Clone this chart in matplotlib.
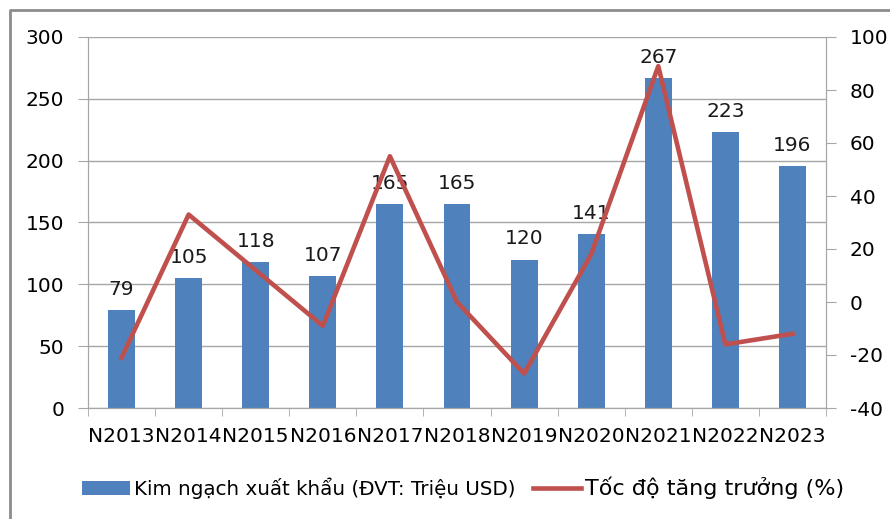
import matplotlib
matplotlib.use('Agg')
import matplotlib.pyplot as plt
from matplotlib.lines import Line2D
import numpy as np

# data
years = ['N2013', 'N2014', 'N2015', 'N2016', 'N2017', 'N2018',
         'N2019', 'N2020', 'N2021', 'N2022', 'N2023']
export_value = [79, 105, 118, 107, 165, 165, 120, 141, 267, 223, 196]
growth_pct = [-21, 33, 12, -9, 55, 0, -27, 18, 89, -16, -12]

bar_color = '#4F81BD'
line_color = '#C0504D'
grid_color = '#A6A6A6'

plt.rcParams['font.family'] = ['DejaVu Sans']
plt.rcParams['font.size'] = 14.5
plt.rcParams['axes.unicode_minus'] = False

fig = plt.figure(figsize=(8.9, 5.19), dpi=100)
ax = fig.add_axes([88 / 890, 1 - 408 / 519, (826 - 88) / 890, (408 - 37) / 519])
ax2 = ax.twinx()

x = np.arange(len(years))
bars = ax.bar(x, export_value, width=0.4, color=bar_color, zorder=2,
              label='Kim ngạch xuất khẩu (ĐVT: Triệu USD)')
for xi, v in zip(x, export_value):
    ax.annotate(str(v), (xi, v), xytext=(0, 8), textcoords='offset points',
                ha='center', va='bottom', fontsize=14.5, color='#1a1a1a')

ln, = ax2.plot(x, growth_pct, color=line_color, lw=3.3,
               label='Tốc độ tăng trưởng (%)', zorder=3)

ax.set_xlim(-0.5, len(years) - 0.5)
ax.set_ylim(0, 300)
ax.set_yticks(np.arange(0, 301, 50))
ax2.set_ylim(-40, 100)
ax2.set_yticks(np.arange(-40, 101, 20))

ax.set_xticks(x)
ax.set_xticklabels(years)
ax.set_xticks(np.arange(-0.5, len(years), 1), minor=True)
ax.tick_params(axis='x', which='major', length=0, pad=14)
ax.tick_params(axis='x', which='minor', length=6, color=grid_color)
ax.tick_params(axis='y', length=7, color=grid_color, pad=10)
ax2.tick_params(axis='y', length=7, color=grid_color, pad=10)

ax.yaxis.grid(True, color=grid_color, lw=1)
ax.set_axisbelow(True)
ax.set_zorder(ax2.get_zorder() - 1)
ax2.patch.set_visible(False)
ax.patch.set_visible(False)

for a in (ax, ax2):
    a.spines['top'].set_visible(False)
    for s in ('left', 'right', 'bottom'):
        a.spines[s].set_color(grid_color)

leg = fig.legend(handles=[bars, ln], loc='center', bbox_to_anchor=(0.52, 1 - 488 / 519),
                 ncol=2, frameon=False, fontsize=14.3, handlelength=2.4,
                 handletextpad=0.2, columnspacing=0.9)
# the growth label is set bigger in the original
leg.get_texts()[1].set_fontsize(16)

# outer chart border (only top and left edges fall inside the picture)
fig.add_artist(Line2D([10 / 890, 10 / 890, 1], [0, 1 - 10 / 519, 1 - 10 / 519],
                      transform=fig.transFigure, color='#8C8C8C', lw=2))

fig.savefig('out.png', dpi=100)
